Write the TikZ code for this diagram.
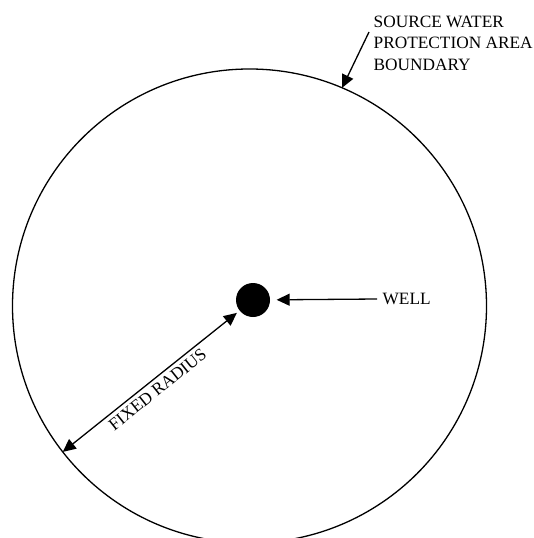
\documentclass[tikz,border=0pt]{standalone}
\usepackage{fontspec}
\setmainfont{Liberation Serif}
\usetikzlibrary{arrows.meta,calc}

\begin{document}
\begin{tikzpicture}[x=1pt,y=1pt,line width=1.3pt,
  tip/.style={-{Triangle[length=13pt,width=12pt]}},
  dbltip/.style={{Triangle[length=13pt,width=12pt]}-{Triangle[length=13pt,width=12pt]}},
  lbl/.style={font=\fontsize{17.3}{21.5}\selectfont}]

  \clip (0,0) rectangle (533,-538);

  % protection area boundary
  \coordinate (C) at (249.5,-306);
  \draw (C) circle (237);

  % the well
  \node[circle,fill=black,minimum size=34pt,inner sep=0] (well) at (253,-300) {};
  \node[lbl,anchor=west,inner sep=0] (welltxt) at (382,-299) {WELL};
  \draw[tip,shorten >=6pt] ($(welltxt.west)+(-5,0)$) -- (well);

  % boundary label
  \node[lbl,anchor=north west,align=left,inner sep=0] (src) at (373,-15)
    {SOURCE WATER\\PROTECTION AREA\\BOUNDARY};
  \coordinate (srctail) at (369,-32);
  \coordinate (bnd) at ($(C)+(67:237)$);
  \draw[tip] (srctail) -- (bnd);

  % radius
  \coordinate (rim) at ($(C)+(218:237)$);
  \draw[dbltip,shorten >=3pt] (rim) -- (well)
    node[lbl,midway,sloped,below,inner sep=4pt] (rad) {FIXED RADIUS};

\end{tikzpicture}
\end{document}
